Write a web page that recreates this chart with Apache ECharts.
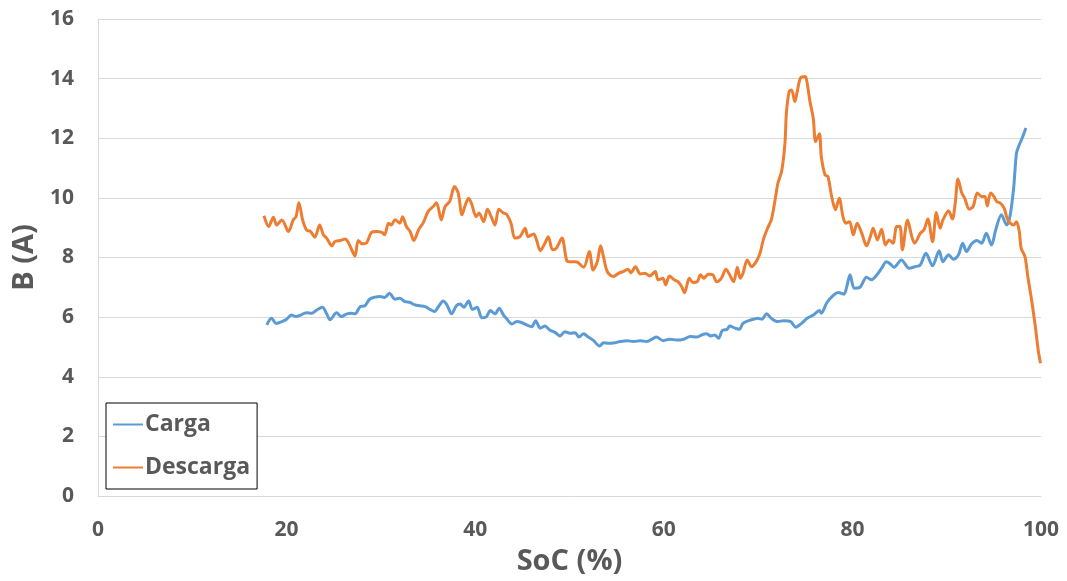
<!DOCTYPE html>
<html>
<head>
<meta charset="utf-8">
<script src="https://cdn.jsdelivr.net/npm/echarts@6/dist/echarts.min.js"></script>
<style>
  html, body { margin: 0; padding: 0; background: #fff; }
  #chart { width: 1067px; height: 581px; }
</style>
</head>
<body>
<div id="chart"></div>
<script>
// Carga (charge) curve
var cargaSoc = [17.9, 18.4, 18.9, 19.5, 20.0, 20.5, 21.0, 21.5, 22.1, 22.65, 23.2, 23.8, 24.25, 24.6, 25.3, 25.8, 26.4, 26.9, 27.25, 27.8,
  28.3, 28.8, 29.4, 29.9, 30.4, 30.9, 31.5, 32.0, 32.55, 33.1, 33.6, 34.1, 34.7, 35.2, 35.7, 36.1, 36.6, 37.0, 37.5, 38.0,
  38.4, 38.8, 39.3, 39.7, 40.2, 40.7, 41.2, 41.6, 42.1, 42.55, 43.0, 43.3, 43.9, 44.4, 44.9, 45.45, 46.0, 46.4, 46.9, 47.4,
  47.9, 48.5, 49.0, 49.5, 50.05, 50.6, 51.0, 51.5, 52.0, 52.5, 53.2, 53.6, 54.1, 54.8, 55.35, 56.1, 56.8, 57.5, 58.2, 58.9,
  59.2, 59.95, 60.6, 61.4, 62.1, 62.8, 63.5, 64.0, 64.5, 65.0, 65.4, 65.8, 66.2, 66.7, 67.0, 67.55, 68.0, 68.4, 69.0, 69.5,
  70.0, 70.4, 70.9, 71.4, 72.1, 72.7, 73.45, 74.0, 74.6, 75.2, 75.85, 76.5, 76.7, 77.3, 78.0, 78.5, 79.1, 79.4, 79.75, 80.2,
  80.8, 81.5, 82.0, 82.6, 83.1, 83.6, 84.0, 84.4, 85.2, 86.0, 86.6, 87.2, 87.8, 88.5, 89.2, 89.6, 90.2, 90.7, 91.25, 91.7,
  92.1, 92.65, 93.2, 93.7, 94.2, 94.75, 95.2, 95.8, 96.35, 96.7, 97.1, 97.4, 97.7, 98.05, 98.4];
var cargaB = [5.74, 5.96, 5.79, 5.85, 5.93, 6.07, 6.02, 6.07, 6.15, 6.13, 6.24, 6.33, 6.11, 5.91, 6.15, 6.02, 6.11, 6.13, 6.11, 6.35,
  6.38, 6.60, 6.67, 6.69, 6.66, 6.80, 6.60, 6.63, 6.52, 6.49, 6.41, 6.38, 6.35, 6.26, 6.19, 6.35, 6.54, 6.41, 6.11, 6.38,
  6.44, 6.33, 6.54, 6.26, 6.33, 5.98, 6.02, 6.22, 6.11, 6.30, 6.07, 5.96, 5.77, 5.85, 5.82, 5.74, 5.68, 5.88, 5.63, 5.70,
  5.57, 5.48, 5.37, 5.51, 5.46, 5.48, 5.33, 5.44, 5.33, 5.23, 5.03, 5.14, 5.12, 5.14, 5.18, 5.21, 5.18, 5.21, 5.18, 5.29,
  5.33, 5.21, 5.26, 5.23, 5.26, 5.35, 5.33, 5.40, 5.44, 5.37, 5.40, 5.29, 5.55, 5.59, 5.70, 5.63, 5.59, 5.79, 5.88, 5.93,
  5.96, 5.93, 6.11, 5.96, 5.85, 5.88, 5.85, 5.66, 5.79, 5.96, 6.07, 6.22, 6.13, 6.49, 6.74, 6.83, 6.77, 7.02, 7.42, 6.97,
  7.00, 7.34, 7.25, 7.42, 7.64, 7.86, 7.79, 7.67, 7.92, 7.64, 7.69, 7.75, 8.14, 7.72, 8.23, 7.86, 8.09, 7.94, 8.09, 8.48,
  8.20, 8.46, 8.57, 8.48, 8.81, 8.42, 8.93, 9.43, 9.09, 9.37, 10.33, 11.50, 11.78, 12.04, 12.34];

// Descarga (discharge) curve
var descargaSoc = [17.6, 18.1, 18.6, 18.95, 19.5, 20.2, 20.7, 21.0, 21.3, 21.7, 22.1, 22.55, 23.0, 23.5, 23.9, 24.25, 24.8, 25.1, 25.7, 26.2,
  26.5, 26.9, 27.25, 27.6, 28.0, 28.5, 29.0, 29.55, 30.1, 30.4, 30.8, 31.1, 31.5, 32.0, 32.3, 32.7, 33.1, 33.5, 34.0, 34.5,
  35.0, 35.6, 35.9, 36.4, 36.8, 37.3, 37.8, 38.2, 38.6, 38.9, 39.3, 39.6, 40.1, 40.4, 40.9, 41.3, 41.7, 42.1, 42.5, 43.0,
  43.3, 43.8, 44.2, 44.75, 45.3, 45.6, 46.2, 46.5, 46.9, 47.4, 47.75, 48.2, 48.6, 49.2, 49.7, 50.05, 50.6, 50.9, 51.5, 52.1,
  52.5, 52.95, 53.3, 53.6, 54.0, 54.65, 55.2, 55.7, 56.2, 56.5, 57.0, 57.5, 58.0, 58.5, 59.1, 59.4, 59.9, 60.2, 60.6, 61.1,
  61.5, 61.9, 62.2, 62.7, 63.1, 63.55, 63.9, 64.25, 64.7, 65.2, 65.6, 66.1, 66.6, 66.9, 67.4, 67.8, 68.1, 68.4, 68.85, 69.3,
  69.8, 70.2, 70.55, 71.0, 71.4, 71.8, 72.1, 72.5, 72.85, 73.0, 73.3, 73.55, 73.9, 74.15, 74.5, 75.0, 75.2, 75.5, 75.85, 76.1,
  76.5, 76.7, 77.1, 77.4, 77.8, 78.2, 78.6, 79.0, 79.3, 79.7, 80.1, 80.5, 81.0, 81.5, 81.9, 82.2, 82.65, 83.1, 83.5, 83.9,
  84.3, 84.7, 85.05, 85.3, 85.85, 86.3, 86.6, 87.2, 87.6, 88.0, 88.5, 88.9, 89.3, 89.6, 90.2, 90.6, 90.9, 91.2, 91.6, 91.9,
  92.4, 92.8, 93.25, 93.7, 94.05, 94.3, 94.65, 95.0, 95.3, 95.7, 96.1, 96.35, 96.6, 97.1, 97.4, 97.7, 97.9, 98.3, 98.6, 99.0,
  99.4, 99.7, 99.95];
var descargaB = [9.40, 9.04, 9.35, 9.09, 9.26, 8.87, 9.26, 9.37, 9.84, 9.26, 8.93, 8.87, 8.68, 9.09, 8.76, 8.65, 8.39, 8.53, 8.57, 8.62,
  8.53, 8.26, 8.05, 8.57, 8.46, 8.50, 8.84, 8.87, 8.84, 8.76, 9.15, 9.09, 9.27, 9.15, 9.37, 9.04, 8.87, 8.57, 8.93, 9.17,
  9.54, 9.73, 9.84, 9.26, 9.71, 9.88, 10.38, 10.16, 9.43, 9.71, 9.99, 9.82, 9.37, 9.49, 9.20, 9.62, 9.37, 9.09, 9.62, 9.49,
  9.46, 9.15, 8.65, 8.70, 8.98, 8.70, 8.79, 8.59, 8.23, 8.48, 8.70, 8.26, 8.31, 8.65, 7.90, 7.86, 7.86, 7.83, 7.67, 8.20,
  7.58, 7.86, 8.39, 8.03, 7.53, 7.36, 7.47, 7.53, 7.61, 7.49, 7.69, 7.45, 7.47, 7.38, 7.53, 7.25, 7.30, 7.08, 7.38, 7.25,
  7.19, 7.02, 6.82, 7.30, 7.16, 7.19, 7.42, 7.30, 7.44, 7.42, 7.19, 7.30, 7.61, 7.47, 7.19, 7.67, 7.30, 7.47, 7.92, 7.69,
  7.86, 8.14, 8.59, 8.98, 9.26, 9.93, 10.49, 10.90, 11.84, 12.84, 13.57, 13.62, 13.23, 13.57, 14.02, 14.07, 13.85, 13.23, 12.67, 11.89,
  12.15, 11.39, 10.77, 10.72, 10.05, 9.60, 9.99, 9.37, 9.15, 9.20, 8.76, 9.15, 8.81, 8.39, 8.70, 8.98, 8.59, 8.95, 8.42, 8.59,
  8.48, 9.04, 9.04, 8.26, 9.26, 8.70, 8.48, 8.81, 8.93, 9.29, 8.53, 9.51, 8.98, 9.26, 9.57, 9.29, 9.82, 10.63, 10.16, 9.99,
  9.62, 9.71, 10.16, 10.05, 10.05, 9.73, 10.16, 10.05, 9.88, 9.82, 9.65, 9.37, 9.20, 9.09, 9.20, 8.87, 8.31, 8.03, 7.36, 6.58,
  5.68, 4.90, 4.45];

var xTicks = [0, 20, 40, 60, 80, 100];
var yTicks = [0, 2, 4, 6, 8, 10, 12, 14, 16];

function pairs(xs, ys) {
  return xs.map(function (x, i) { return [x, ys[i]]; });
}

var textColor = '#595959';
var gridColor = '#d9d9d9';
var fontFam = '"Open Sans", sans-serif';

var myChart = echarts.init(document.getElementById('chart'));
var option = {
  animation: false,
  grid: { left: 98, right: 26, top: 19, bottom: 85, outerBoundsMode: 'none' },
  legend: {
    orient: 'vertical',
    left: 106,
    top: 403,
    icon: 'rect',
    itemWidth: 30,
    itemHeight: 2,
    itemGap: 20,
    padding: [10, 7, 10, 7],
    borderColor: '#000',
    borderWidth: 1,
    backgroundColor: '#fff',
    textStyle: { color: textColor, fontSize: 23, fontWeight: 'bold', fontFamily: fontFam, padding: [0, 0, 0, -3] },
    data: ['Carga', 'Descarga']
  },
  xAxis: {
    type: 'value',
    min: xTicks[0],
    max: xTicks[xTicks.length - 1],
    interval: 20,
    name: 'SoC (%)',
    nameLocation: 'middle',
    nameGap: 51,
    nameTextStyle: { color: textColor, fontSize: 29, fontWeight: 'bold', fontFamily: fontFam },
    axisLine: { show: true, lineStyle: { color: gridColor } },
    axisTick: { show: false },
    splitLine: { show: false },
    axisLabel: { color: textColor, fontSize: 21, fontWeight: 'bold', fontFamily: fontFam, margin: 24 }
  },
  yAxis: {
    type: 'value',
    min: yTicks[0],
    max: yTicks[yTicks.length - 1],
    interval: 2,
    name: 'B (A)',
    nameLocation: 'middle',
    nameGap: 42,
    nameTextStyle: { color: textColor, fontSize: 29, fontWeight: 'bold', fontFamily: fontFam },
    axisLine: { show: true, lineStyle: { color: gridColor } },
    axisTick: { show: false },
    splitLine: { show: true, lineStyle: { color: gridColor } },
    axisLabel: { color: textColor, fontSize: 21, fontWeight: 'bold', fontFamily: fontFam, margin: 24 }
  },
  series: [
    {
      name: 'Carga',
      type: 'line',
      showSymbol: false,
      smooth: 0.3,
      lineStyle: { width: 3, color: '#5b9bd5' },
      itemStyle: { color: '#5b9bd5' },
      data: pairs(cargaSoc, cargaB)
    },
    {
      name: 'Descarga',
      type: 'line',
      showSymbol: false,
      smooth: 0.3,
      lineStyle: { width: 3, color: '#ed7d31' },
      itemStyle: { color: '#ed7d31' },
      data: pairs(descargaSoc, descargaB)
    }
  ]
};
myChart.setOption(option);
</script>
</body>
</html>
